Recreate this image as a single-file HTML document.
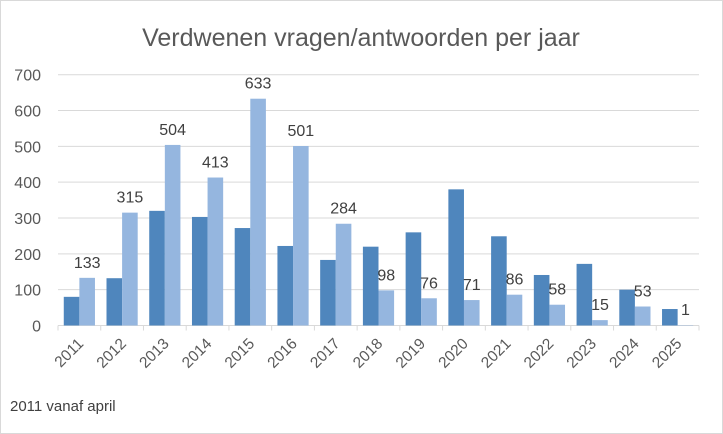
<!DOCTYPE html>
<html><head><meta charset="utf-8"><style>
body{margin:0;background:#fff;}
svg{display:block;font-family:"Liberation Sans",sans-serif;}
</style></head><body>
<svg id="c" width="723" height="434">
<rect x="0.5" y="0.5" width="722" height="433" fill="#fff" stroke="#d9d9d9"/>
<text x="361" y="46" text-anchor="middle" font-size="25" fill="#595959">Verdwenen vragen/antwoorden per jaar</text>
<text x="10" y="411" font-size="15" fill="#404040">2011 vanaf april</text>
<g id="grid"></g><g id="bars"></g><g id="labels"></g>
</svg>
<script>
const categories=["2011","2012","2013","2014","2015","2016","2017","2018","2019","2020","2021","2022","2023","2024","2025"];
const seriesA=[80,132,320,303,272,222,183,220,260,380,249,141,172,100,46];
const seriesB=[133,315,504,413,633,501,284,98,76,71,86,58,15,53,1];
const yTicks=[0,100,200,300,400,500,600,700];
const NS="http://www.w3.org/2000/svg";
const x0=58,x1=699,y0=325.5,yTop=74.7,yMax=700;
const gw=(x1-x0)/categories.length;
const y=v=>y0-(v/yMax)*(y0-yTop);
function mk(t,a,p){const e=document.createElementNS(NS,t);for(const k in a)e.setAttribute(k,a[k]);p.appendChild(e);return e;}
const grid=document.getElementById('grid'),bars=document.getElementById('bars'),labels=document.getElementById('labels');
yTicks.forEach(v=>{
 if(v>0){const l=mk('line',{x1:x0,x2:x1,y1:y(v),y2:y(v),stroke:'#d9d9d9','stroke-width':1},grid);
 
 }
 const t=mk('text',{x:41,y:y(v)+6,'text-anchor':'end','font-size':16,fill:'#595959'},grid);
 t.textContent=v;
 
 
});
const ax=mk('line',{x1:x0,x2:x1,y1:y0,y2:y0,stroke:'#d9d9d9','stroke-width':1},grid);


for(let i=0;i<=categories.length;i++){
 const tk=mk('line',{x1:x0+i*gw,x2:x0+i*gw,y1:y0,y2:y0+5,stroke:'#d9d9d9'},grid);
 
 
}
const bw=gw*0.365,off=gw*0.135;
categories.forEach((c,i)=>{
 const gx=x0+i*gw;
 const a=mk('rect',{x:gx+off,y:y(seriesA[i]),width:bw,height:y0-y(seriesA[i]),fill:'#4f86bd'},bars);
 
 
 const b=mk('rect',{x:gx+off+bw,y:y(seriesB[i]),width:bw,height:y0-y(seriesB[i]),fill:'#95b6df'},bars);
 
 
 const t=mk('text',{x:gx+off+bw*1.5,y:y(seriesB[i])-10,'text-anchor':'middle','font-size':16,fill:'#404040'},labels);
 t.textContent=seriesB[i];
 
 
 const cx=gx+gw/2+5,cy=y0+19;
 const xl=mk('text',{x:cx,y:cy,'text-anchor':'end','font-size':15.5,fill:'#595959',transform:'rotate(-45 '+cx+' '+cy+')'},labels);
 xl.textContent=c;
 
 
});
</script>
</body></html>
